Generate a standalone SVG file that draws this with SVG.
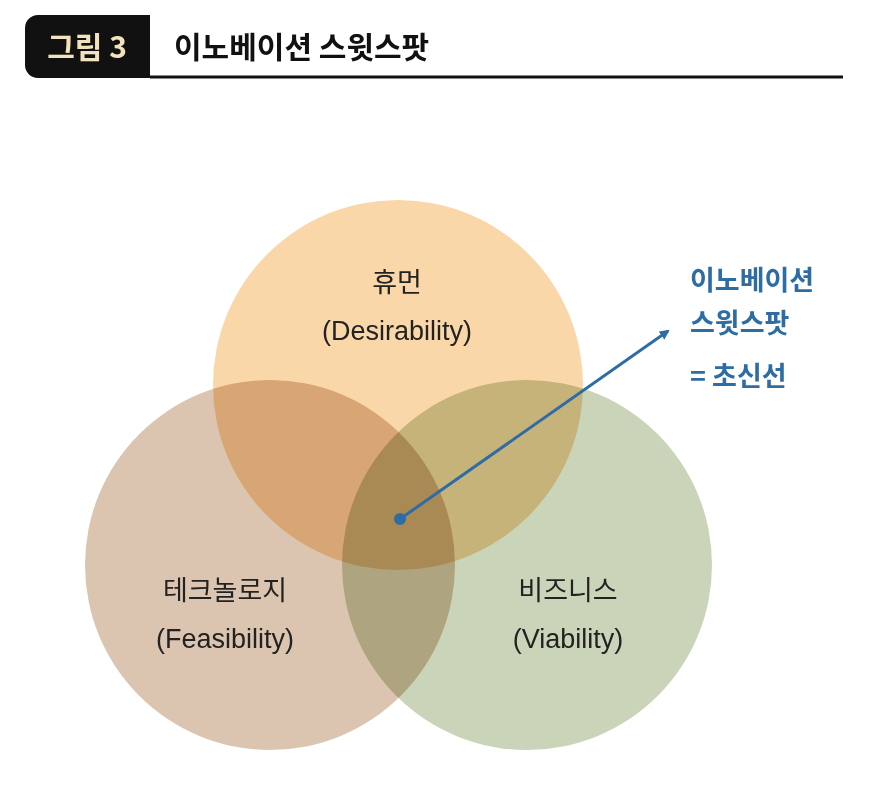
<svg xmlns="http://www.w3.org/2000/svg" width="870" height="797" viewBox="0 0 870 797">
<style>
.c{mix-blend-mode:multiply}
.t{font-family:"Liberation Sans","Noto Sans CJK KR",sans-serif;font-size:27px;fill:#222;text-anchor:middle}
.b{font-family:"Noto Sans CJK KR",sans-serif;font-weight:bold;font-size:27px;fill:#2e6ca4}
</style>
<defs><marker id="ah" markerWidth="10" markerHeight="10" refX="8" refY="5" orient="auto" markerUnits="userSpaceOnUse" viewBox="0 0 10 10"><path d="M0,0 L10,5 L0,10 Z" fill="#2e6ca4"/></marker></defs>
<rect width="870" height="797" fill="#fff"/>
<g id="header">
<path d="M38,15 H150 V78 H38 A13,13 0 0 1 25,65 V28 A13,13 0 0 1 38,15 Z" fill="#111"/>
<text x="87" y="58" font-family="Noto Sans CJK KR,sans-serif" font-weight="bold" font-size="30" fill="#f3e3bd" text-anchor="middle">그림 3</text>
<line x1="150" y1="77" x2="843" y2="77" stroke="#111" stroke-width="3"/>
<text x="174" y="58" font-family="Noto Sans CJK KR,sans-serif" font-weight="bold" font-size="30" fill="#111">이노베이션 스윗스팟</text>
</g>
<g id="circles" style="isolation:isolate">
<circle id="human" class="c" cx="398" cy="385" r="185" fill="#fad7a8"/>
<circle id="tech" class="c" cx="270" cy="565" r="185" fill="#dcc5b0"/>
<circle id="biz" class="c" cx="527" cy="565" r="185" fill="#cad4b8"/>
</g>
<g id="labels">
<text class="t" x="397" y="292">휴먼</text>
<text class="t" x="397" y="340">(Desirability)</text>
<text class="t" x="225" y="600">테크놀로지</text>
<text class="t" x="225" y="648">(Feasibility)</text>
<text class="t" x="568" y="600">비즈니스</text>
<text class="t" x="568" y="648">(Viability)</text>
</g>
<g id="connectors">
<circle cx="400" cy="519" r="6" fill="#2e6ca4"/>
<line x1="400" y1="519" x2="668" y2="331" stroke="#2e6ca4" stroke-width="3" marker-end="url(#ah)"/>
</g>
<g id="note">
<text class="b" x="690" y="290">이노베이션</text>
<text class="b" x="690" y="333">스윗스팟</text>
<text class="b" x="690" y="386">= 초신선</text>
</g>
</svg>
